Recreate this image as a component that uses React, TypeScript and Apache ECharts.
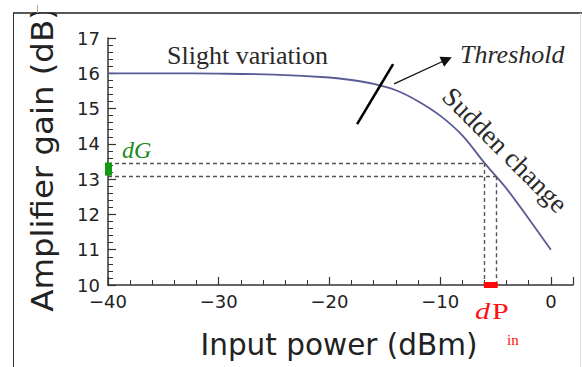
import React, { useEffect, useRef } from "react";
import * as echarts from "echarts";

// ---- data ----
const inputPower = [-40, -35, -30, -25, -20, -18, -16, -14, -12, -10, -8, -6, -4.95, -4, -2, 0];
const gain = [16.0, 16.0, 15.99, 15.96, 15.88, 15.81, 15.7, 15.52, 15.21, 14.8, 14.24, 13.46, 13.08, 12.73, 11.88, 11.0];
const xRange = [-40, 2];
const yRange = [10, 17];
const upperMark = [-6, 13.46];
const lowerMark = [-4.95, 13.08];
const dGRange = [13.1, 13.47];
const dPRange = [-6.05, -4.8];
const thresholdSlash = [[-17.5, 14.56], [-14.25, 16.26]];
const thresholdArrow = [[-14.16, 15.7], [-9.4, 16.39]];

const SERIF = "'Liberation Serif', 'Times New Roman', serif";
const SANS = "'DejaVu Sans', sans-serif";

const fmt = (v: number) => (v < 0 ? "\u2212" + Math.abs(v) : String(v));

export default function App() {
  const ref = useRef<HTMLDivElement>(null);
  useEffect(() => {
    if (!ref.current) return;
    const chart = echarts.init(ref.current, null, { renderer: "svg" });
    const dash = { type: [4, 3], color: "#555", width: 1.4 };
    const seg = (a: number[], b: number[], lineStyle: any, extraEnd: any = {}) => [
      { coord: a, lineStyle, symbol: "none" },
      { coord: b, lineStyle, symbol: "none", ...extraEnd },
    ];
    chart.setOption({
      animation: false,
      grid: { left: 108, right: 9, top: 38, bottom: 82 },
      xAxis: {
        type: "value",
        min: xRange[0],
        max: xRange[1],
        interval: 10,
        axisLine: { onZero: false, lineStyle: { color: "#333", width: 1.5 } },
        axisTick: { inside: true, length: 8, lineStyle: { color: "#333", width: 1.2 } },
        minorTick: { show: true, splitNumber: 5, length: 5, lineStyle: { color: "#333", width: 1 } },
        splitLine: { show: false },
        minorSplitLine: { show: false },
        axisLabel: { color: "#222", fontSize: 18, fontFamily: SANS, margin: 7, formatter: fmt, showMaxLabel: false },
      },
      yAxis: {
        type: "value",
        min: yRange[0],
        max: yRange[1],
        interval: 1,
        axisLine: { show: true, onZero: false, lineStyle: { color: "#333", width: 1.5 } },
        axisTick: { show: true, inside: true, length: 8, lineStyle: { color: "#333", width: 1.2 } },
        minorTick: { show: true, splitNumber: 5, length: 5, lineStyle: { color: "#333", width: 1 } },
        splitLine: { show: false },
        minorSplitLine: { show: false },
        axisLabel: { color: "#222", fontSize: 18, fontFamily: SANS, margin: 8, formatter: fmt },
      },
      series: [
        {
          type: "line",
          data: inputPower.map((x, i) => [x, gain[i]]),
          symbol: "none",
          smooth: 0.35,
          clip: false,
          silent: true,
          lineStyle: { color: "#5a5a96", width: 1.8 },
          markLine: {
            silent: true,
            symbol: ["none", "none"],
            label: { show: false },
            emphasis: { disabled: true },
            data: [
              seg([xRange[0], upperMark[1]], upperMark, dash),
              seg([xRange[0], lowerMark[1]], lowerMark, dash),
              seg(upperMark, [upperMark[0], yRange[0]], dash),
              seg(lowerMark, [lowerMark[0], yRange[0]], dash),
              seg(thresholdSlash[0], thresholdSlash[1], { type: "solid", color: "#000", width: 2.6 }),
              seg(thresholdArrow[0], thresholdArrow[1], { type: "solid", color: "#111", width: 1.3 }, { symbol: "triangle", symbolSize: 11 }),
              seg([xRange[0], dGRange[0]], [xRange[0], dGRange[1]], { type: "solid", color: "#119911", width: 7 }),
              seg([dPRange[0], yRange[0]], [dPRange[1], yRange[0]], { type: "solid", color: "#ff0a0a", width: 6 }),
            ],
          },
        },
      ],
      graphic: [
        { type: "text", x: 42.6, y: 159.5, rotation: Math.PI / 2, scaleX: 1.08, z: 10,
          style: { text: "Amplifier gain (dB)", fontFamily: SANS, fontSize: 30, fill: "#222", align: "center", verticalAlign: "middle" } },
        { type: "text", x: 339, y: 345, z: 10,
          style: { text: "Input power (dBm)", fontFamily: SANS, fontSize: 29.5, fill: "#222", align: "center", verticalAlign: "middle" } },
        { type: "rect", shape: { x: 0, y: 0, width: 582, height: 12.5 }, style: { fill: "#fff" }, z: 20 },
        { type: "line", shape: { x1: 13, y1: 13, x2: 582, y2: 13 }, style: { stroke: "#222", lineWidth: 1.5 }, z: 21 },
        { type: "line", shape: { x1: 13.5, y1: 13, x2: 13.5, y2: 367 }, style: { stroke: "#333", lineWidth: 1 }, z: 21 },
        { type: "line", shape: { x1: 580.5, y1: 13, x2: 580.5, y2: 367 }, style: { stroke: "#ddd", lineWidth: 1 }, z: 21 },
        { type: "line", shape: { x1: 37.5, y1: 5, x2: 37.5, y2: 13 }, style: { stroke: "#aaa", lineWidth: 1 }, z: 21 },
        { type: "text", x: 167, y: 55, z: 10,
          style: { text: "Slight variation", fontFamily: SERIF, fontSize: 26, fill: "#2a2a2a", align: "left", verticalAlign: "middle" } },
        { type: "text", x: 460, y: 54, z: 10,
          style: { text: "Threshold", fontFamily: SERIF, fontStyle: "italic", fontSize: 26, fill: "#2a2a2a", align: "left", verticalAlign: "middle" } },
        { type: "text", x: 505, y: 150, rotation: -Math.PI / 4, z: 10,
          style: { text: "Sudden change", fontFamily: SERIF, fontSize: 27, fill: "#2a2a2a", align: "center", verticalAlign: "middle" } },
        { type: "text", x: 122, y: 150, z: 10,
          style: { text: "dG", fontFamily: SERIF, fontStyle: "italic", fontSize: 24, fill: "#1a8a1a", align: "left", verticalAlign: "middle" } },
        { type: "text", x: 475, y: 311, scaleY: 0.8, z: 10,
          style: { text: "d", fontFamily: SERIF, fontStyle: "italic", fontSize: 30, fill: "#ff1010", align: "left", verticalAlign: "middle" } },
        { type: "text", x: 492, y: 311, scaleY: 0.8, z: 10,
          style: { text: "P", fontFamily: SERIF, fontSize: 30, fill: "#ff1010", align: "left", verticalAlign: "middle" } },
        { type: "text", x: 507, y: 340, z: 10,
          style: { text: "in", fontFamily: SERIF, fontSize: 15, fill: "#ff1010", align: "left", verticalAlign: "middle" } },
      ],
    });
    return () => chart.dispose();
  }, []);
  return <div ref={ref} style={{ position: "absolute", left: 0, top: 0, width: 582, height: 367, background: "#fff" }} />;
}
